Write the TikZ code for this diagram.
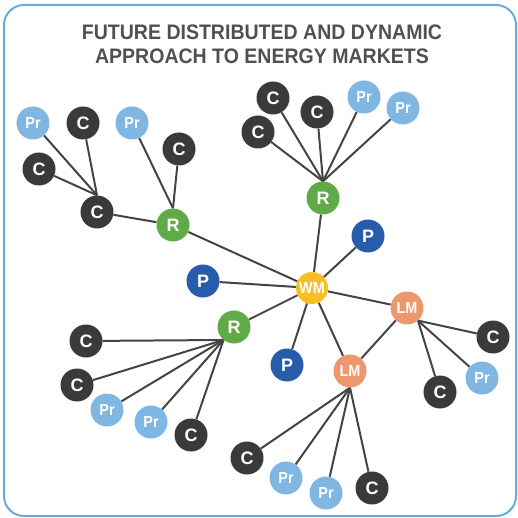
\documentclass[tikz,border=0pt]{standalone}
\usepackage{fontspec}
\setmainfont{Liberation Sans}
\newfontfamily\titlefont[FakeStretch=0.93]{Liberation Sans}
\newfontfamily\tagfont[FakeStretch=0.9]{Liberation Sans}
\usetikzlibrary{backgrounds}

\definecolor{frameblue}{RGB}{100,172,222}
\definecolor{titlegray}{RGB}{80,80,80}
\definecolor{cdark}{RGB}{58,58,58}
\definecolor{prblue}{RGB}{128,182,226}
\definecolor{rgreen}{RGB}{96,170,72}
\definecolor{pblue}{RGB}{38,92,170}
\definecolor{lmorange}{RGB}{236,152,108}
\definecolor{wmyellow}{RGB}{249,190,33}
\definecolor{linkgray}{RGB}{68,68,68}

\tikzset{
  disc/.style={circle, minimum size=33pt, inner sep=0pt, text=white,
               font=\bfseries\fontsize{18}{18}\selectfont},
  cnode/.style={disc, fill=cdark},
  prnode/.style={disc, fill=prblue, font=\tagfont\bfseries\fontsize{16}{16}\selectfont},
  rnode/.style={disc, fill=rgreen},
  pnode/.style={disc, fill=pblue},
  lmnode/.style={disc, fill=lmorange, font=\tagfont\bfseries\fontsize{16}{16}\selectfont},
  wmnode/.style={disc, fill=wmyellow, minimum size=32pt, font=\tagfont\bfseries\fontsize{16}{16}\selectfont},
  link/.style={draw=linkgray, line width=2pt},
  heading/.style={font=\titlefont\bfseries\fontsize{21}{24}\selectfont, text=titlegray, align=center}
}

\begin{document}
\begin{tikzpicture}[x=1pt, y=-1pt]
\useasboundingbox (0,0) rectangle (518,518);
\draw[frameblue, line width=2pt, rounded corners=20pt] (4,5) rectangle (516,516);

\node[heading] (title) at (262,44) {FUTURE DISTRIBUTED AND DYNAMIC\\APPROACH TO ENERGY MARKETS};

% upper-left branch
\node[prnode] (pr1) at (33,123) {Pr};
\node[cnode]  (c1)  at (83,123) {C};
\node[prnode] (pr2) at (132,123) {Pr};
\node[cnode]  (c2)  at (39,169) {C};
\node[cnode]  (c3)  at (179,149) {C};
\node[cnode]  (c4)  at (97,212) {C};
\node[rnode]  (r1)  at (173,225) {R};

% upper branch
\node[cnode]  (c5)  at (273,98) {C};
\node[cnode]  (c6)  at (317,112) {C};
\node[cnode]  (c7)  at (258,132) {C};
\node[prnode] (pr3) at (364,97) {Pr};
\node[prnode] (pr4) at (403,108) {Pr};
\node[rnode]  (r2)  at (323,198) {R};

% wholesale market and its neighbours
\node[wmnode] (wm)  at (312,288) {WM};
\node[pnode]  (p1)  at (368,236) {P};
\node[pnode]  (p2)  at (203,281) {P};
\node[pnode]  (p3)  at (287,365) {P};
\node[rnode]  (r3)  at (234,327) {R};
\node[lmnode] (lm1) at (407,308) {LM};
\node[lmnode] (lm2) at (350,371) {LM};

% right branch
\node[cnode]  (c8)  at (493,337) {C};
\node[prnode] (pr5) at (482,378) {Pr};
\node[cnode]  (c9)  at (440,392) {C};

% lower-left branch
\node[cnode]  (c10) at (86,341) {C};
\node[cnode]  (c11) at (77,385) {C};
\node[prnode] (pr6) at (107,410) {Pr};
\node[prnode] (pr7) at (151,422) {Pr};
\node[cnode]  (c12) at (191,435) {C};

% lower branch
\node[cnode]  (c13) at (247,458) {C};
\node[prnode] (pr8) at (286,478) {Pr};
\node[prnode] (pr9) at (326,493) {Pr};
\node[cnode]  (c14) at (372,488) {C};

\begin{pgfonlayer}{background}
  \foreach \n in {pr1,c1,c2} \draw[link] (\n) -- (c4.north);
  \draw[link] (c4) -- (r1);
  \foreach \n in {pr2,c3} \draw[link] (\n) -- (r1.north);
  \foreach \n in {c5,c6,c7,pr3,pr4} \draw[link] (\n) -- (r2.north);
  \foreach \n in {r1,r2,r3,p1,p2,p3,lm1,lm2} \draw[link] (\n) -- (wm);
  \draw[link] (lm1) -- (lm2);
  \foreach \n in {c8,pr5,c9} \draw[link] (\n) -- (lm1.-49);
  \foreach \n in {c10,c11,pr6,pr7,c12} \draw[link] (\n) -- (r3.231);
  \foreach \n in {c13,pr8,pr9,c14} \draw[link] (\n) -- (lm2.south);
\end{pgfonlayer}
\end{tikzpicture}
\end{document}
